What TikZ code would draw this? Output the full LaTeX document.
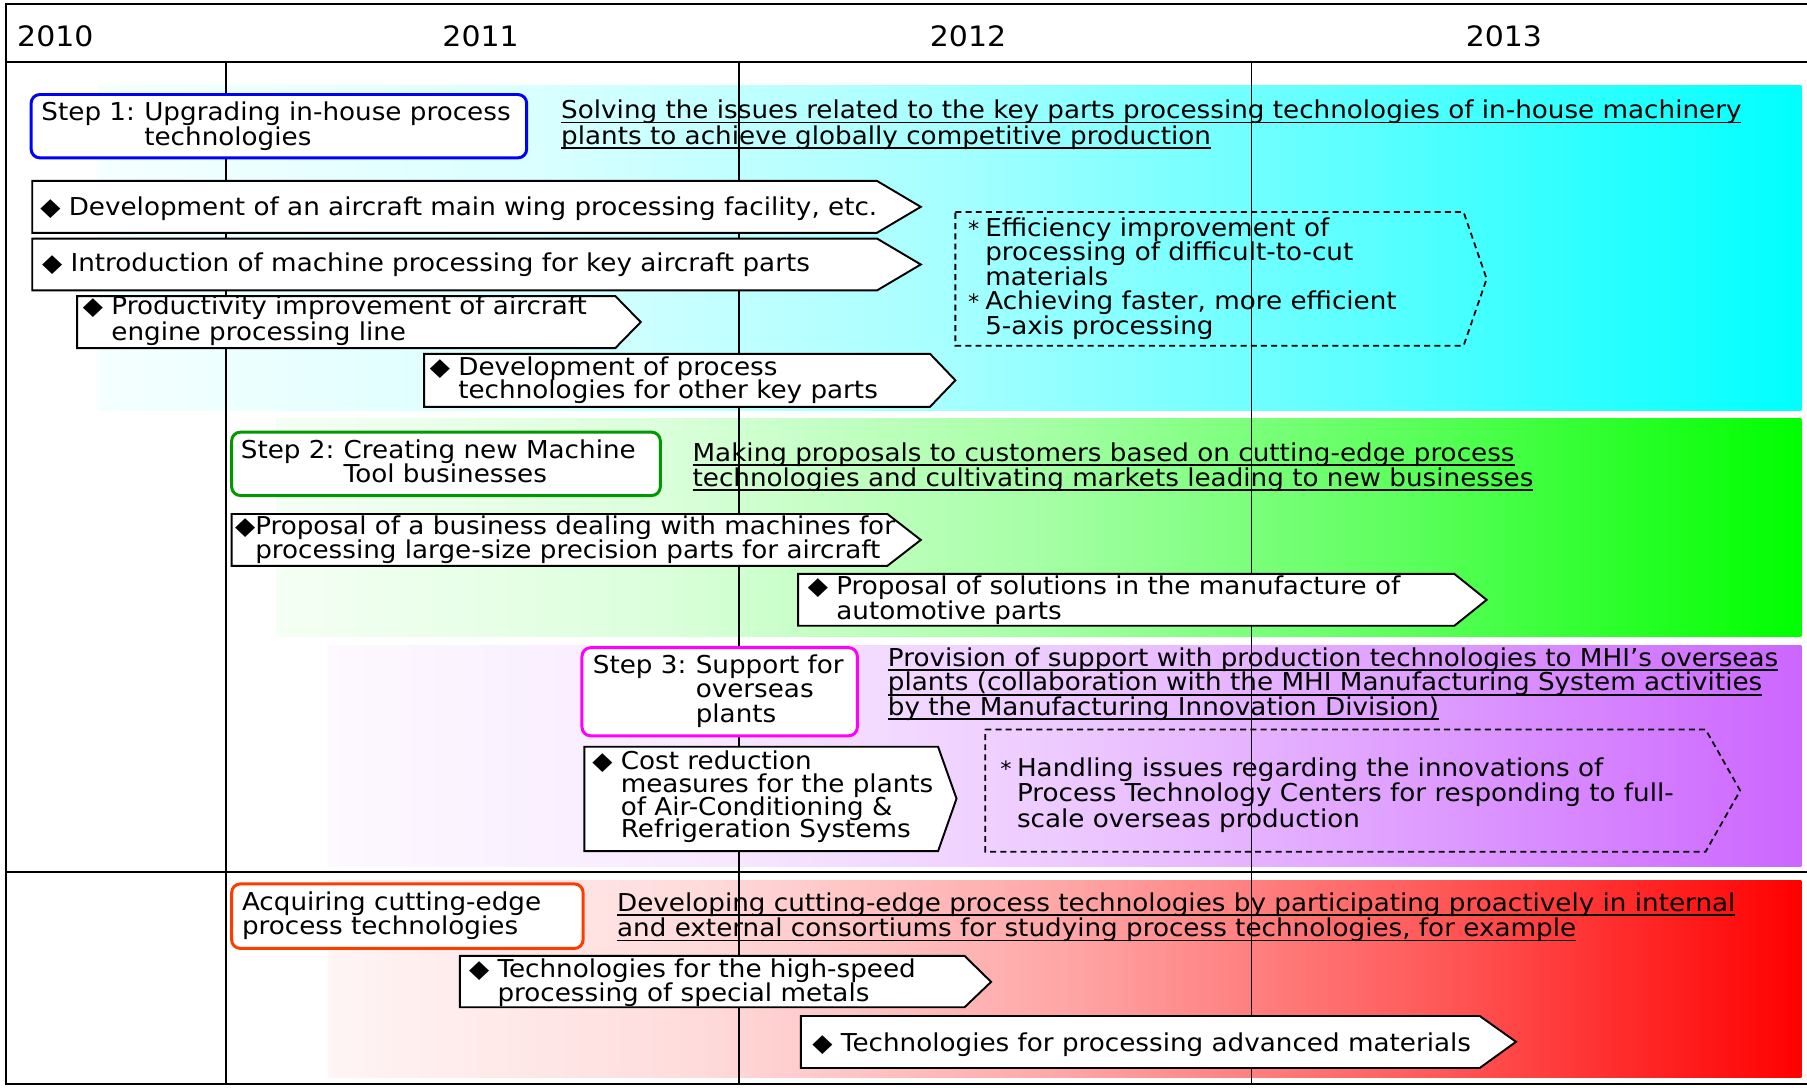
\documentclass[tikz,border=0pt]{standalone}
\usepackage{fontspec}
\setmainfont[FakeStretch=1.065]{DejaVu Sans}
\definecolor{stepone}{RGB}{0,0,255}
\definecolor{steptwo}{RGB}{0,153,0}
\definecolor{stepthree}{RGB}{255,0,255}
\definecolor{stepfour}{RGB}{255,60,0}
\definecolor{bandcyan}{RGB}{0,255,255}
\definecolor{bandgreen}{RGB}{0,255,0}
\definecolor{bandpurple}{RGB}{204,102,255}
\definecolor{bandred}{RGB}{255,0,0}
\newcommand\bandshading[2]{\pgfdeclarehorizontalshading{#1}{100bp}{color(0bp)=(#2!4!white); color(25bp)=(#2!4!white); color(37.5bp)=(#2!14!white); color(50bp)=(#2!35!white); color(62.5bp)=(#2!65!white); color(75bp)=(#2); color(100bp)=(#2)}}
\bandshading{cyanband}{bandcyan}
\bandshading{greenband}{bandgreen}
\bandshading{purpleband}{bandpurple}
\bandshading{redband}{bandred}
\newcommand\ml[2][14pt]{\vtop{\lineskiplimit=-1000pt\baselineskip=#1\relax\halign{##\hfil\cr#2\crcr}}}
\newcommand\ul[1]{\setbox0=\hbox{#1}\rlap{\rule[-2.7pt]{\wd0}{1.1pt}}\box0}
\newcommand\steplab[1]{\makebox[58.5pt][l]{#1}}
\newcommand\stepind{\hskip58.5pt\relax}
\newcommand\dind{\hphantom{◆\ }}
\newcommand\notestar[1]{\makebox[#1][l]{\fontsize{12}{12}\selectfont *}}
\begin{document}
\begin{tikzpicture}[x=0.023048cm,y=-0.023048cm, line join=miter,
  frameline/.style={line width=1.1pt, black},
  gridline/.style={line width=0.9pt, black},
  arrowbox/.style={draw=black, fill=white, line width=1.1pt},
  dashbox/.style={draw=black, line width=1pt, dash pattern=on 3.4pt off 2.4pt},
  stepbox/.style={fill=white, line width=1.7pt, rounded corners=5pt},
  txt/.style={anchor=base west, inner sep=0pt, outer sep=0pt, font=\fontsize{14}{14}\selectfont},
  year/.style={anchor=base, inner sep=0pt, font=\fontsize{16}{16}\selectfont}]

\useasboundingbox (0,0) rectangle (1568,944);

% colour bands
\shade[shading=cyanband] (85,74) rectangle (1563,356.6);
\shade[shading=greenband] (240,363) rectangle (1563,552);
\shade[shading=purpleband] (285,560) rectangle (1563,752);
\shade[shading=redband] (285,764) rectangle (1563,935);

% frame and grid
\draw[frameline] (1568,3.5) -- (5,3.5) -- (5,941) -- (1568,941);
\draw[frameline] (5,54) -- (1568,54);
\draw[frameline] (5,757) -- (1568,757);
\draw[gridline] (196,54) -- (196,941);
\draw[gridline] (641,54) -- (641,941);
\draw[gridline] (1086,54) -- (1086,941);

% years
\node[year] (y2010) at (48,40) {2010};
\node[year] (y2011) at (417,40) {2011};
\node[year] (y2012) at (840,40) {2012};
\node[year] (y2013) at (1305,40) {2013};

% goal texts
\node[txt] (g1) at (487,103) {\ml[14.4pt]{\ul{Solving the issues related to the key parts processing technologies of in-house machinery}\cr\ul{plants to achieve globally competitive production}}};
\node[txt] (g2) at (601,400.5) {\ml[14.1pt]{\ul{Making proposals to customers based on cutting-edge process}\cr\ul{technologies and cultivating markets leading to new businesses}}};
\node[txt] (g3) at (770.5,578) {\ml[14.1pt]{\ul{Provision of support with production technologies to MHI’s overseas}\cr\ul{plants (collaboration with the MHI Manufacturing System activities}\cr\ul{by the Manufacturing Innovation Division)}}};
\node[txt] (g4) at (535.5,791) {\ml[14.3pt]{\ul{Developing cutting-edge process technologies by participating proactively in internal}\cr\ul{and external consortiums for studying process technologies, for example}}};

% dashed notes
\draw[dashbox] (829,184) -- (1270,184) -- (1290,242) -- (1270,300) -- (829,300) -- cycle;
\node[txt] (d1) at (840,204.8) {\ml[14pt]{\notestar{9.8pt}Efficiency improvement of\cr\hskip9.8pt\relax processing of difficult-to-cut\cr\hskip9.8pt\relax materials\cr\notestar{9.8pt}Achieving faster, more efficient\cr\hskip9.8pt\relax 5-axis processing}};
\draw[dashbox] (855,633) -- (1480,633) -- (1510,686) -- (1480,739) -- (855,739) -- cycle;
\node[txt] (d2) at (868,674) {\ml[14.3pt]{\notestar{9.5pt}Handling issues regarding the innovations of\cr\hskip9.5pt\relax Process Technology Centers for responding to full-\cr\hskip9.5pt\relax scale overseas production}};

% step boxes
\draw[stepbox, draw=stepone] (27,82) rectangle (457,137);
\node[txt] (s1) at (36,104.5) {\ml[14.3pt]{\steplab{Step 1:}Upgrading in-house process\cr\stepind technologies}};
\draw[stepbox, draw=steptwo] (201,375) rectangle (573,430);
\node[txt] (s2) at (209,398) {\ml[13.8pt]{\steplab{Step 2:}Creating new Machine\cr\stepind Tool businesses}};
\draw[stepbox, draw=stepthree] (505,562) rectangle (744,638.5);
\node[txt] (s3) at (514.5,584) {\ml[14.2pt]{\steplab{Step 3:}Support for\cr\stepind overseas\cr\stepind plants}};
\draw[stepbox, draw=stepfour] (201,767) rectangle (506,823);
\node[txt] (s4) at (210,790) {\ml[13.8pt]{Acquiring cutting-edge\cr process technologies}};

% arrow boxes
\draw[arrowbox] (28,157) -- (761,157) -- (799,179.5) -- (761,202) -- (28,202) -- cycle;
\node[txt] (a1) at (35,187) {◆ Development of an aircraft main wing processing facility, etc.};
\draw[arrowbox] (28,207) -- (761,207) -- (799,229.5) -- (761,252) -- (28,252) -- cycle;
\node[txt] (a2) at (36.5,236) {◆ Introduction of machine processing for key aircraft parts};
\draw[arrowbox] (67,257) -- (534,257) -- (556,279.5) -- (534,302) -- (67,302) -- cycle;
\node[txt] (a3) at (72,273) {\ml[14.8pt]{◆ Productivity improvement of aircraft\cr\dind engine processing line}};
\draw[arrowbox] (368,307) -- (807,307) -- (829,330) -- (807,353) -- (368,353) -- cycle;
\node[txt] (a4) at (373,325.5) {\ml[13.4pt]{◆ Development of process\cr\dind technologies for other key parts}};
\draw[arrowbox] (201,446) -- (770,446) -- (799,468.5) -- (770,491) -- (201,491) -- cycle;
\node[txt] (a5) at (204,464.2) {\ml[13.2pt]{◆Proposal of a business dealing with machines for\cr\hphantom{◆}processing large-size precision parts for aircraft}};
\draw[arrowbox] (692.5,498) -- (1262,498) -- (1290,520.5) -- (1262,543) -- (692.5,543) -- cycle;
\node[txt] (a6) at (701,516) {\ml[14.3pt]{◆ Proposal of solutions in the manufacture of\cr\dind automotive parts}};
\draw[arrowbox] (507,648) -- (814,648) -- (830,693) -- (814,738.5) -- (507,738.5) -- cycle;
\node[txt] (a7) at (514,668) {\ml[12.9pt]{◆ Cost reduction\cr\dind measures for the plants\cr\dind of Air-Conditioning \&\cr\dind Refrigeration Systems}};
\draw[arrowbox] (399,829.5) -- (837,829.5) -- (860,852) -- (837,874) -- (399,874) -- cycle;
\node[txt] (a8) at (407,848) {\ml[13.8pt]{◆ Technologies for the high-speed\cr\dind processing of special metals}};
\draw[arrowbox] (695,881.6) -- (1284,881.6) -- (1315.5,904) -- (1284,926.7) -- (695,926.7) -- cycle;
\node[txt] (a9) at (705,912.5) {◆ Technologies for processing advanced materials};
\end{tikzpicture}
\end{document}
